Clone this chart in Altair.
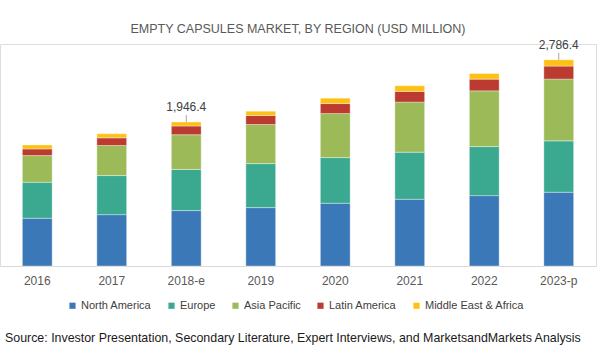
import altair as alt
import pandas as pd

years = ["2016", "2017", "2018-e", "2019", "2020", "2021", "2022", "2023-p"]
regions = ["North America", "Europe", "Asia Pacific", "Latin America", "Middle East & Africa"]
north_america = [645, 694, 749, 789, 848, 902, 951, 997]
europe = [487, 528, 556, 595, 617, 636, 663, 694]
asia_pacific = [360, 406, 469, 528, 595, 677, 753, 835]
latin_america = [90, 104, 118, 122, 135, 144, 158, 176]
middle_east_africa = [54, 54, 54.4, 58, 73, 77, 76, 84.4]
colors = ["#3a78b8", "#3aa98f", "#9cbb58", "#bb3b30", "#fdc114"]
labelled_years = ["2018-e", "2023-p"]

series = [north_america, europe, asia_pacific, latin_america, middle_east_africa]
rows = []
for r_i, (name, vals) in enumerate(zip(regions, series)):
    for y, v in zip(years, vals):
        rows.append({"year": y, "region": name, "value": v, "idx": r_i})
df = pd.DataFrame(rows)

totals = df.groupby("year", sort=False)["value"].sum().reset_index()
lab = totals[totals["year"].isin(labelled_years)].rename(columns={"value": "total"})

FONT = "Liberation Sans"

xenc = alt.X("year:N", sort=years, title=None,
             scale=alt.Scale(paddingInner=0.6, paddingOuter=0.3),
             axis=alt.Axis(labelAngle=0, ticks=False, domainColor="#d9d9d9",
                           labelFontSize=12, labelColor="#595959", labelFont=FONT,
                           labelPadding=9))

bars = alt.Chart(df).mark_bar(stroke="#ffffff", strokeWidth=0.6, strokeOpacity=0.6).encode(
    x=xenc,
    y=alt.Y("value:Q", stack="zero", scale=alt.Scale(domain=[0, 3000]), axis=None),
    color=alt.Color("region:N", sort=regions,
                    scale=alt.Scale(domain=regions, range=colors),
                    legend=alt.Legend(title=None, orient="none", direction="horizontal",
                                      legendX=67, legendY=256, symbolType="square",
                                      symbolSize=38, symbolStrokeWidth=0,
                                      labelFontSize=11, labelFont=FONT, labelColor="#404040",
                                      columnPadding=14, labelOffset=3)),
    order=alt.Order("idx:Q", sort="ascending"),
)

leader = alt.Chart(lab).mark_rule(color="#a6a6a6", strokeWidth=1, y2Offset=-7).encode(
    x=alt.X("year:N", sort=years),
    y=alt.Y("total:Q"),
    y2=alt.Y2("total"),
)

text = alt.Chart(lab).mark_text(dy=-11, baseline="alphabetic", fontSize=12, font=FONT,
                                color="#404040").encode(
    x=alt.X("year:N", sort=years),
    y=alt.Y("total:Q"),
    text=alt.Text("total:Q", format=",.1f"),
)

source = alt.Chart(pd.DataFrame({"t": ["Source: Investor Presentation, Secondary Literature, Expert Interviews, and MarketsandMarkets Analysis"]})).mark_text(
    align="left", baseline="middle", fontSize=12.4, font=FONT, color="#1a1a1a"
).encode(x=alt.value(5), y=alt.value(294), text="t:N")

chart = alt.layer(bars, leader, text, source).properties(
    width=596, height=222,
    title=alt.TitleParams(text="EMPTY CAPSULES MARKET, BY REGION (USD MILLION)",
                          fontSize=12.5, font=FONT, fontWeight="normal", color="#595959",
                          anchor="middle", frame="group", offset=-4, dy=3,
                          baseline="alphabetic"),
    padding={"left": 0, "top": 44, "right": 9, "bottom": 88},
    autosize="none",
).configure_view(stroke=None).configure(background="white")

chart.save("out.html", embed_options={"renderer": "svg", "actions": False})
